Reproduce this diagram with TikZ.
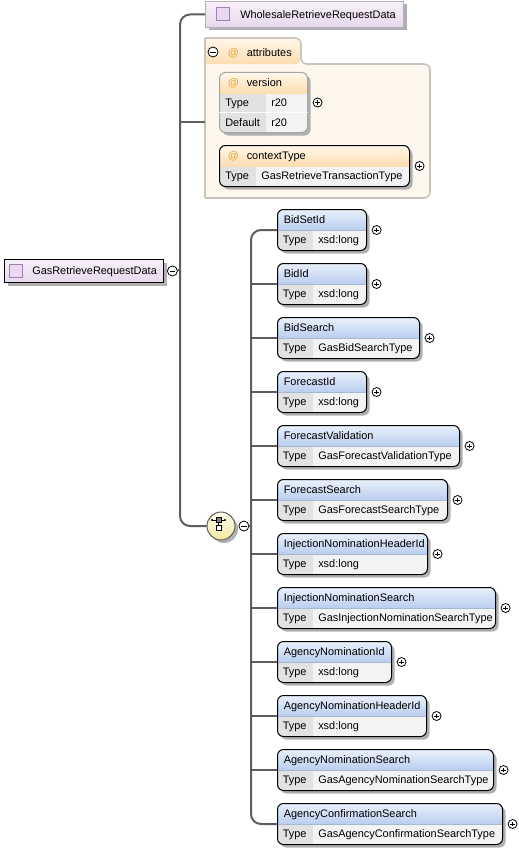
\documentclass[tikz,border=0pt]{standalone}
\usepackage{fontspec}
\setmainfont{Liberation Sans}
\usetikzlibrary{positioning,shadows}

\definecolor{trunk}{HTML}{5E5E5E}
\definecolor{shadowgray}{HTML}{B0B0B0}
\definecolor{hdrtop}{HTML}{EAF0FB}
\definecolor{hdrbot}{HTML}{B8CDF0}
\definecolor{hdrline}{HTML}{A8B8D0}
\definecolor{rowgray}{HTML}{F3F3F3}
\definecolor{typegray}{HTML}{E2E2E2}
\definecolor{roottop}{HTML}{F7F0F9}
\definecolor{rootbot}{HTML}{E6D8EC}
\definecolor{iconfill}{HTML}{E8D8F0}
\definecolor{iconline}{HTML}{A47CB8}
\definecolor{wsline}{HTML}{B8AEC0}
\definecolor{attrbg}{HTML}{FDF7ED}
\definecolor{attrline}{HTML}{C9C5BD}
\definecolor{tabtop}{HTML}{FFF7EA}
\definecolor{tabbot}{HTML}{FCDDB0}
\definecolor{atgrey}{HTML}{A6A6A6}
\definecolor{atsign}{HTML}{F0A028}
\definecolor{seqtop}{HTML}{FFFEEC}
\definecolor{seqbot}{HTML}{F1E7A0}

\tikzset{
  lbl/.style={anchor=base west,inner sep=0pt,font=\fontsize{8.2}{9.8}\selectfont},
  conn/.style={draw=trunk,line width=1.5pt},
  shade box/.style={drop shadow={shadow xshift=2.25pt,shadow yshift=-2.25pt,fill=shadowgray,opacity=1}},
  pm/.style={circle,draw=black,fill=white,inner sep=0pt,minimum size=6.75pt,line width=0.6pt},
  plus/.style={pm,path picture={\draw[line width=0.6pt]
      ([xshift=-1.8pt]path picture bounding box.center) -- ([xshift=1.8pt]path picture bounding box.center)
      ([yshift=-1.8pt]path picture bounding box.center) -- ([yshift=1.8pt]path picture bounding box.center);}},
  minus/.style={pm,minimum size=7.5pt,path picture={\draw[line width=0.6pt]
      ([xshift=-2pt]path picture bounding box.center) -- ([xshift=2pt]path picture bounding box.center);}},
  rootbox/.style={anchor=north west,draw=black,line width=0.75pt,inner sep=0pt,top color=roottop,bottom color=rootbot,shade box},
  icon/.style={draw=iconline,fill=iconfill,line width=0.75pt,inner sep=0pt,minimum size=9.75pt},
  elembox/.style={anchor=north west,draw=black,line width=0.75pt,rounded corners=4.5pt,fill=rowgray,
    minimum height=30.75pt,inner sep=0pt,shade box,
    path picture={
      \fill[typegray,sharp corners] (path picture bounding box.north west) rectangle ([xshift=26.25pt]path picture bounding box.south west);
      \shade[top color=hdrtop,bottom color=hdrbot,sharp corners] (path picture bounding box.north west)
        rectangle ([yshift=-15.75pt]path picture bounding box.north east);
      \draw[hdrline,line width=0.5pt,sharp corners] ([yshift=-15.75pt]path picture bounding box.north west)
        -- ([yshift=-15.75pt]path picture bounding box.north east);}},
  attbox/.style={anchor=north west,line width=0.75pt,rounded corners=4.5pt,fill=rowgray,inner sep=0pt,shade box,
    path picture={
      \fill[typegray,sharp corners] (path picture bounding box.north west) rectangle ([xshift=#1]path picture bounding box.south west);
      \shade[top color=tabtop,bottom color=tabbot,sharp corners] (path picture bounding box.north west)
        rectangle ([yshift=-15.75pt]path picture bounding box.north east);}},
  seqnode/.style={circle,draw=trunk,line width=0.75pt,minimum size=21pt,inner sep=0pt,
    top color=seqtop,bottom color=seqbot,shade box}
}

\begin{document}
\begin{tikzpicture}[x=0.75pt,y=-0.75pt]
\useasboundingbox (0,0) rectangle (518,849);

% root element
\node[rootbox,minimum width=119.25pt,minimum height=17.25pt] (root) at (4,259) {};
\node[icon] (root-i) at (15.5,270.5) {};
\node[lbl] (root-n) at (32,274.5) {GasRetrieveRequestData};
\node[minus,right=2.25pt of root] (root-m) {};

% WholesaleRetrieveRequestData
\node[rootbox,draw=wsline,minimum width=148.5pt,minimum height=19.5pt] (wsd) at (205,1) {};
\node[icon] (wsd-i) at (223,14) {};
\node[lbl] (wsd-n) at (240,18.5) {WholesaleRetrieveRequestData};

% attributes
\fill[attrbg,rounded corners=4.5pt] (205,64) -- (430,64) -- (430,198) -- (205,198);
\shade[top color=tabtop,bottom color=tabbot,rounded corners=4.5pt] (205,38) -- (301,38) -- (301,64) -- (205,64);
\draw[attrline,line width=1.2pt,rounded corners=4.5pt] (205,38) -- (301,38) -- (301,64) -- (430,64) -- (430,198) -- (205,198);
\draw[attrline,line width=1.2pt] (205,198) -- (205,38);
\node[minus] (at-m) at (213,52) {};
\node[lbl,text=atsign] (at-s) at (227.5,56.5) {@};
\node[lbl] (at-n) at (246.5,56.5) {attributes};

\node[attbox=34.5pt,draw=atgrey,minimum width=66pt,minimum height=45pt] (ver) at (219,72) {};
\draw[white,line width=0.75pt] (ver.west |- 0,112) -- (ver.east |- 0,112);
\node[lbl,text=atsign] (ver-s) at (227.5,86.5) {@};
\node[lbl] (ver-n) at (246.5,86.5) {version};
\node[lbl] (ver-t) at (225,106.5) {Type};
\node[lbl] (ver-v) at (271,106.5) {r20};
\node[lbl] (ver-d) at (225,126) {Default};
\node[lbl] (ver-dv) at (271,126) {r20};
\node[plus,right=3.5pt of ver] (ver-p) {};

\node[attbox=27pt,draw=black,minimum width=142.5pt,minimum height=30.75pt] (ctx) at (219,145) {};
\node[lbl,text=atsign] (ctx-s) at (227.5,159.5) {@};
\node[lbl] (ctx-n) at (246.5,159.5) {contextType};
\node[lbl] (ctx-t) at (225,179.5) {Type};
\node[lbl] (ctx-v) at (261,179.5) {GasRetrieveTransactionType};
\node[plus,right=3.5pt of ctx] (ctx-p) {};

% sequence
\node[seqnode] (seq) at (221,526) {};
\begin{scope}[shift={(seq.center)},line width=0.6pt]
  \draw (-9,-6) -- (4,-6);
  \fill (-9,-6) circle (0.9pt) (4,-6) circle (0.9pt);
  \draw (-2.5,-4) -- (-2.5,-1);
  \draw[fill=gray] (-5,-8.5) rectangle (0,-3.5);
  \draw[fill=white] (-5,-1) rectangle (0,4);
\end{scope}
\node[minus,right=2.25pt of seq] (seq-m) {};

% trunk
\coordinate (tr) at (180,270);
\coordinate (at-j) at (205,122);
\draw[conn] (root-m) -- (tr);
\draw[conn,rounded corners=7.5pt] (wsd.west) -| (tr) |- (seq);
\draw[conn] (at-j) -- (at-j -| tr);

% children
\foreach \id/\w/\nm/\ty [count=\i from 0] in {
    bsid/366/BidSetId/xsd:long,
    bid/366/BidId/xsd:long,
    bsrch/419/BidSearch/GasBidSearchType,
    fcid/366/ForecastId/xsd:long,
    fcval/459/ForecastValidation/GasForecastValidationType,
    fcsrch/447/ForecastSearch/GasForecastSearchType,
    inhid/427/InjectionNominationHeaderId/xsd:long,
    insrch/495/InjectionNominationSearch/GasInjectionNominationSearchType,
    anid/391/AgencyNominationId/xsd:long,
    anhid/426/AgencyNominationHeaderId/xsd:long,
    ansrch/493/AgencyNominationSearch/GasAgencyNominationSearchType,
    acsrch/502/AgencyConfirmationSearch/GasAgencyConfirmationSearchType}{
  \node[elembox,minimum width={(\w-277)*0.75pt}] (\id) at (277,{209+54*\i}) {};
  \node[lbl] (\id-n) at (283.5,{223.5+54*\i}) {\nm};
  \node[lbl] (\id-t) at (282.5,{243.5+54*\i}) {Type};
  \node[lbl] (\id-v) at (318,{243.5+54*\i}) {\ty};
  \node[plus,right=3.5pt of \id] (\id-p) {};
}

\coordinate (sq) at (251,526);
\draw[conn] (seq-m) -- (sq);
\draw[conn,rounded corners=7.5pt] (bsid.west) -| (sq) |- (acsrch.west);
\foreach \id in {bid,bsrch,fcid,fcval,fcsrch,inhid,insrch,anid,anhid,ansrch}
  \draw[conn] (\id.west) -- (\id.west -| sq);
\end{tikzpicture}
\end{document}
